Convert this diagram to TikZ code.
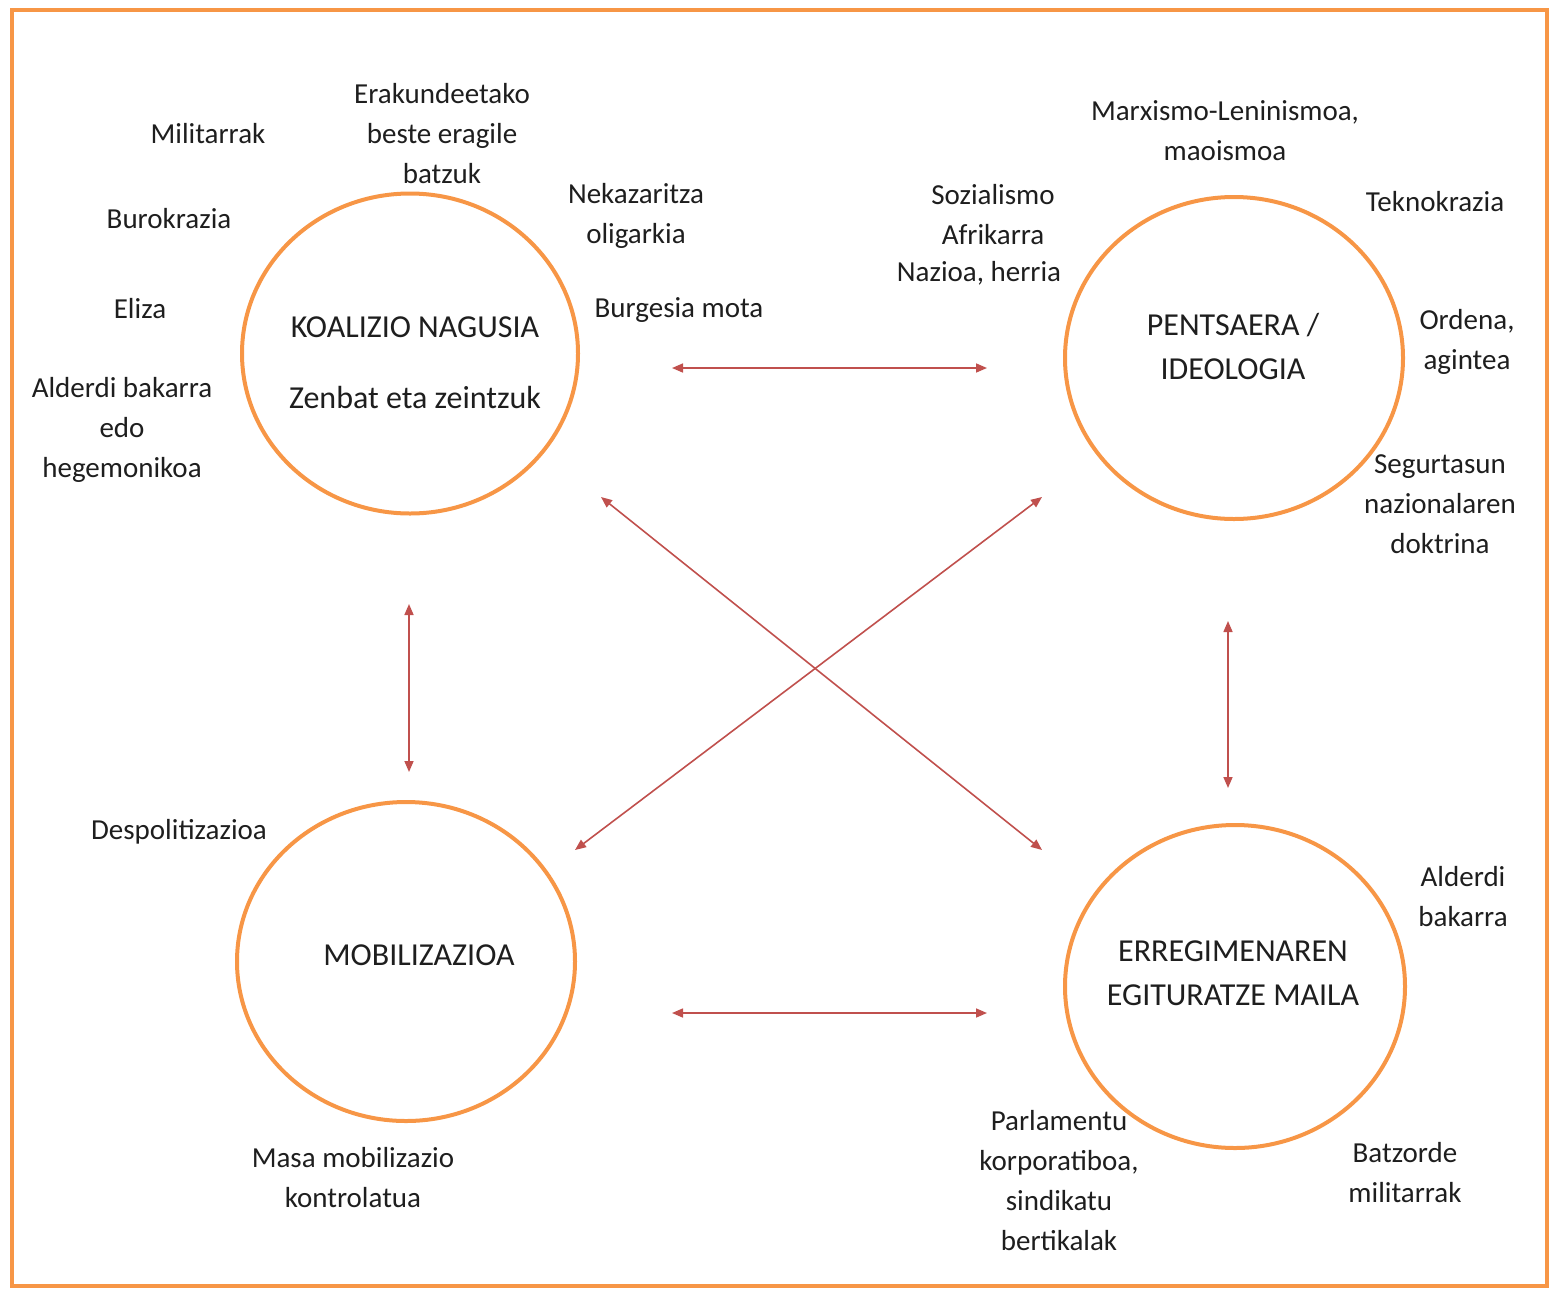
\documentclass[tikz,border=0pt]{standalone}
\usepackage{fontspec}
\setmainfont{Carlito}
\usetikzlibrary{shapes.geometric,arrows.meta}
\definecolor{orng}{HTML}{F79646}
\definecolor{arr}{HTML}{C0504D}
\definecolor{txt}{HTML}{1E1E1E}
\begin{document}
\begin{tikzpicture}[x=1pt,y=-1pt,
  ring/.style={draw=orng,line width=4pt,ellipse,inner sep=0pt},
  note/.style={font=\fontsize{29}{40}\selectfont,text=txt,align=center,inner sep=0pt},
  title/.style={font=\fontsize{32}{44}\selectfont,text=txt,align=center,inner sep=0pt},
  link/.style={draw=arr,line width=1.6pt,{Triangle[length=11pt,width=9pt]}-{Triangle[length=11pt,width=9pt]}}]
\useasboundingbox (0,0) rectangle (1549,1288);
\draw[orng,line width=4pt] (12,10) rectangle (1547,1286);
% circles
\node[ring,minimum width=336pt,minimum height=320pt] (koa) at (410,353.5) {};
\node[ring,minimum width=338pt,minimum height=322pt] (pen) at (1234,358) {};
\node[ring,minimum width=338pt,minimum height=319pt] (mob) at (406,961.5) {};
\node[ring,minimum width=340pt,minimum height=323pt] (err) at (1235,986.5) {};
% circle labels
\node[title] (koat) at (415,327) {KOALIZIO NAGUSIA};
\node[title] (koaz) at (415,397) {Zenbat eta zeintzuk};
\node[title] (pent) at (1233,346) {PENTSAERA /\\IDEOLOGIA};
\node[title] (mobt) at (419,955) {MOBILIZAZIOA};
\node[title] (errt) at (1233,973) {ERREGIMENAREN\\EGITURATZE MAILA};
% notes
\node[note] (n1) at (208,134) {Militarrak};
\node[note] (n2) at (442,134) {Erakundeetako\\beste eragile\\batzuk};
\node[note] (n3) at (169,219) {Burokrazia};
\node[note] (n4) at (636,216) {Nekazaritza\\oligarkia};
\node[note] (n5) at (140,309) {Eliza};
\node[note] (n6) at (679,310) {Burgesia mota};
\node[note] (n7) at (122,430) {Alderdi bakarra\\edo\\hegemonikoa};
\node[note] (n8) at (1225,131) {Marxismo-Leninismoa,\\maoismoa};
\node[note] (n9) at (993,215) {Sozialismo\\Afrikarra};
\node[note] (n10) at (979,273) {Nazioa, herria};
\node[note] (n11) at (1435,202) {Teknokrazia};
\node[note] (n12) at (1467,342) {Ordena,\\agintea};
\node[note] (n13) at (1440,504) {Segurtasun\\nazionalaren\\doktrina};
\node[note] (n14) at (179,832) {Despolitizazioa};
\node[note] (n15) at (353,1178) {Masa mobilizazio\\kontrolatua};
\node[note] (n16) at (1463,897) {Alderdi\\bakarra};
\node[note] (n17) at (1059,1181) {Parlamentu\\korporatiboa,\\sindikatu\\bertikalak};
\node[note] (n18) at (1405,1173) {Batzorde\\militarrak};
% arrow ends
\coordinate (a1) at (672,368);  \coordinate (b1) at (987,368);
\coordinate (a2) at (672,1013); \coordinate (b2) at (987,1013);
\coordinate (a3) at (409,604);  \coordinate (b3) at (409,772);
\coordinate (a4) at (1228,621); \coordinate (b4) at (1228,788);
\coordinate (a5) at (601,497);  \coordinate (b5) at (1042,850);
\coordinate (a6) at (1042,497); \coordinate (b6) at (575,850);
\draw[link] (a1) -- (b1);
\draw[link] (a2) -- (b2);
\draw[link] (a3) -- (b3);
\draw[link] (a4) -- (b4);
\draw[link] (a5) -- (b5);
\draw[link] (a6) -- (b6);
\end{tikzpicture}
\end{document}
